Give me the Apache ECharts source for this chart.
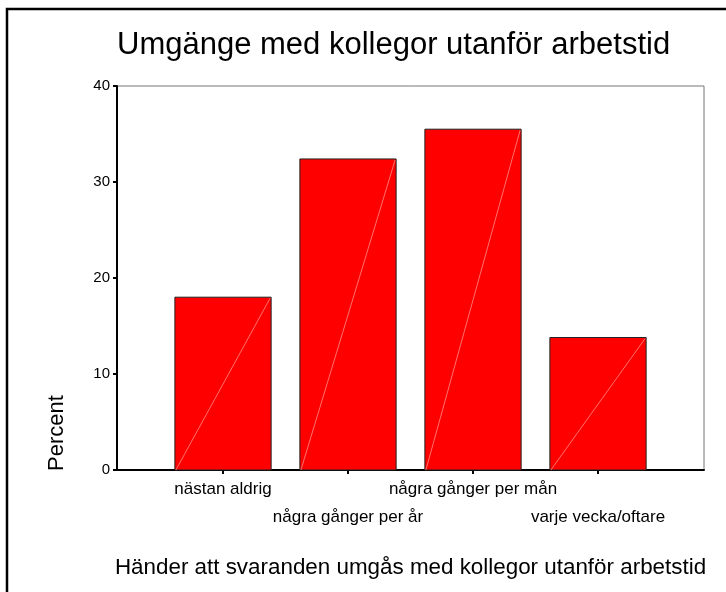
<!DOCTYPE html>
<html>
<head>
<meta charset="utf-8">
<script src="https://cdn.jsdelivr.net/npm/echarts@6/dist/echarts.min.js"></script>
<style>
  html, body { margin: 0; padding: 0; background: #fff; }
  #chart { width: 726px; height: 592px; }
</style>
</head>
<body>
<div id="chart"></div>
<script>
  // data
  const categories = ['nästan aldrig', 'några gånger per år', 'några gånger per mån', 'varje vecka/oftare'];
  const percent = [18.0, 32.4, 35.5, 13.8];
  const yTicks = [0, 10, 20, 30, 40];

  const font = '"Liberation Sans", Arial, sans-serif';
  const ec = echarts.init(document.getElementById('chart'));

  // every bar: red box with the faint diagonal SPSS draws through it
  function drawBar(params, api) {
    const top = api.coord([api.value(0), api.value(1)]);
    const base = api.coord([api.value(0), 0]);
    const w = api.size([1, 0])[0] * 0.77;
    const x0 = base[0] - w / 2;
    return {
      type: 'group',
      children: [{
        type: 'rect',
        shape: { x: x0, y: top[1], width: w, height: base[1] - top[1] },
        style: { fill: '#ff0000', stroke: '#222', lineWidth: 1 }
      }, {
        type: 'line',
        shape: { x1: x0 + 1, y1: base[1], x2: x0 + w - 1, y2: top[1] + 1 },
        style: { stroke: 'rgba(255,175,175,0.8)', lineWidth: 0.8 }
      }]
    };
  }

  const option = {
    animation: false,
    backgroundColor: '#fff',
    title: {
      text: 'Umgänge med kollegor utanför arbetstid',
      left: 117,
      top: 30,
      padding: 0,
      textStyle: { fontFamily: font, fontSize: 31, fontWeight: 'normal', color: '#000' }
    },
    graphic: [{
      type: 'rect',
      shape: { x: 7, y: 9, width: 760, height: 700 },
      style: { fill: 'none', stroke: '#000', lineWidth: 2.5 },
      silent: true
    }, {
      type: 'text',
      x: 57,
      y: 433,
      rotation: Math.PI / 2,
      style: {
        text: 'Percent',
        font: '22px ' + font,
        fill: '#000',
        textAlign: 'center',
        textVerticalAlign: 'middle'
      }
    }],
    grid: [
      // frame of the plot
      { left: 117, right: 22, top: 86, bottom: 122, show: true, borderColor: '#777', borderWidth: 1 },
      // the band the bars sit in
      { left: 160.5, right: 65.5, top: 86, bottom: 122 }
    ],
    xAxis: [{
      gridIndex: 0,
      type: 'value',
      min: 0,
      max: 1,
      axisLine: { show: true, lineStyle: { color: '#000', width: 2 } },
      axisTick: { show: false },
      axisLabel: { show: false },
      splitLine: { show: false },
      name: 'Händer att svaranden umgås med kollegor utanför arbetstid',
      nameLocation: 'middle',
      nameGap: 87,
      nameTextStyle: { fontFamily: font, fontSize: 22.4, color: '#000' }
    }, {
      gridIndex: 1,
      type: 'category',
      data: categories,
      axisLine: { show: false },
      axisTick: { show: true, alignWithLabel: true, length: 4, lineStyle: { color: '#000', width: 2 } },
      axisLabel: {
        interval: 0,
        margin: 5,
        fontFamily: font,
        fontSize: 17,
        color: '#000',
        lineHeight: 28,
        formatter: function (v, i) { return i % 2 ? '\n' + v : v; }
      },
      splitLine: { show: false }
    }],
    yAxis: [{
      gridIndex: 0,
      type: 'value',
      min: yTicks[0],
      max: yTicks[yTicks.length - 1],
      interval: 10,
      axisLine: { show: true, lineStyle: { color: '#000', width: 2 } },
      axisTick: { show: true, length: 4, lineStyle: { color: '#000', width: 2 } },
      axisLabel: { fontFamily: font, fontSize: 15, color: '#000', margin: 7 },
      splitLine: { show: false }
    }, {
      gridIndex: 1,
      type: 'value',
      min: yTicks[0],
      max: yTicks[yTicks.length - 1],
      show: false
    }],
    series: [{
      type: 'custom',
      xAxisIndex: 1,
      yAxisIndex: 1,
      renderItem: drawBar,
      encode: { x: 0, y: 1 },
      data: categories.map(function (c, i) { return [c, percent[i]]; })
    }]
  };

  ec.setOption(option);
</script>
</body>
</html>
